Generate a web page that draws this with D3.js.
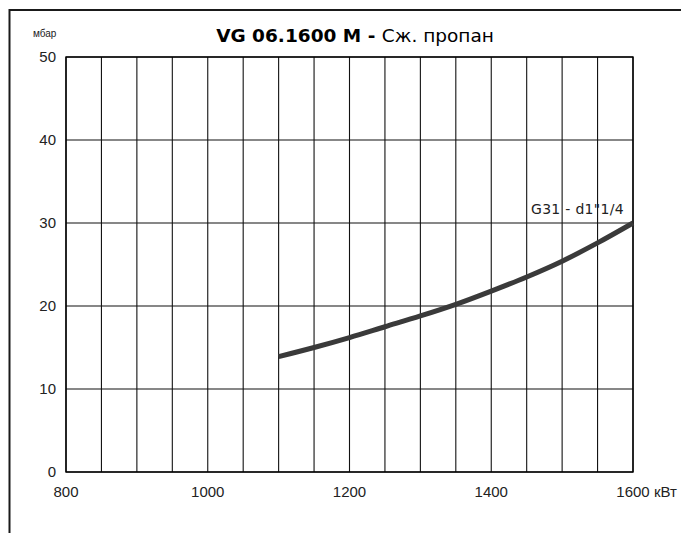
<!DOCTYPE html>
<html>
<head>
<meta charset="utf-8">
<script src="https://cdn.jsdelivr.net/npm/d3@7"></script>
<style>
  html, body { margin: 0; padding: 0; background: #fff; }
  svg { display: block; }
</style>
</head>
<body>
<svg id="chart" width="681" height="533"></svg>
<script>
// ---- data ----
const titleBold = "VG 06.1600 M - ";
const titleNormal = "Сж. пропан";
const yUnit = "мбар";
const xUnit = "кВт";
const seriesLabel = "G31 - d1\"1/4";
const xTicks = [800, 1000, 1200, 1400, 1600];
const yTicks = [0, 10, 20, 30, 40, 50];
const powerKW = [1100, 1150, 1200, 1250, 1300, 1350, 1400, 1450, 1500, 1550, 1600];
const pressureMbar = [13.9, 15.0, 16.2, 17.5, 18.8, 20.2, 21.8, 23.5, 25.4, 27.6, 30.0];

// ---- layout ----
const svg = d3.select("#chart");
const pL = 66, pR = 633, pT = 57, pB = 472;
const x = d3.scaleLinear().domain([800, 1600]).range([pL, pR]);
const y = d3.scaleLinear().domain([0, 50]).range([pB, pT]);

// outer frame (cropped: only top & left visible)
svg.append("path")
  .attr("d", `M9.5,533 L9.5,10 L681,10`)
  .attr("fill", "none").attr("stroke", "#1a1a1a").attr("stroke-width", 2);

// grid
const g = svg.append("g");
g.selectAll("line.v").data(x.ticks(16)).join("line")
  .attr("x1", d => x(d)).attr("x2", d => x(d))
  .attr("y1", pT).attr("y2", pB)
  .attr("stroke", "#111").attr("stroke-width", 1.1);
g.selectAll("line.h").data(yTicks).join("line")
  .attr("x1", pL).attr("x2", pR)
  .attr("y1", d => y(d)).attr("y2", d => y(d))
  .attr("stroke", "#111").attr("stroke-width", 1.1);
g.append("rect").attr("x", pL).attr("y", pT)
  .attr("width", pR - pL).attr("height", pB - pT)
  .attr("fill", "none").attr("stroke", "#000").attr("stroke-width", 1.4);

// axes labels
const tickFont = "'Liberation Sans', Arial, sans-serif";
svg.append("g").selectAll("text").data(xTicks).join("text")
  .attr("x", d => x(d)).attr("y", 497)
  .attr("text-anchor", "middle")
  .attr("font-family", tickFont).attr("font-size", 15).attr("fill", "#222")
  .text(d => d);
svg.append("text")
  .attr("x", x(1600) + 21).attr("y", 497)
  .attr("font-family", tickFont).attr("font-size", 15).attr("fill", "#222")
  .text(xUnit);
svg.append("g").selectAll("text").data(yTicks).join("text")
  .attr("x", 56).attr("y", d => y(d) + 5)
  .attr("text-anchor", "end")
  .attr("font-family", tickFont).attr("font-size", 15).attr("fill", "#222")
  .text(d => d);
svg.append("text")
  .attr("x", 33).attr("y", 37)
  .attr("font-family", tickFont).attr("font-size", 10).attr("fill", "#222")
  .text(yUnit);

// title
const t = svg.append("text")
  .attr("x", 355).attr("y", 42).attr("text-anchor", "middle")
  .attr("font-family", "'DejaVu Sans', sans-serif").attr("font-size", 18.5).attr("fill", "#000");
t.append("tspan").attr("font-weight", "bold").text(titleBold);
t.append("tspan").attr("font-weight", "normal").text(titleNormal);

// curve
const line = d3.line()
  .x((d, i) => x(powerKW[i]))
  .y(d => y(d))
  .curve(d3.curveMonotoneX);
svg.append("path")
  .datum(pressureMbar)
  .attr("d", line)
  .attr("fill", "none").attr("stroke", "#3a3a3a").attr("stroke-width", 5);

// series label
svg.append("text")
  .attr("x", 624).attr("y", 214).attr("text-anchor", "end")
  .attr("font-family", "'DejaVu Sans', sans-serif").attr("font-size", 14).attr("letter-spacing", 0.3)
  .attr("fill", "#222")
  .text(seriesLabel);
</script>
</body>
</html>
